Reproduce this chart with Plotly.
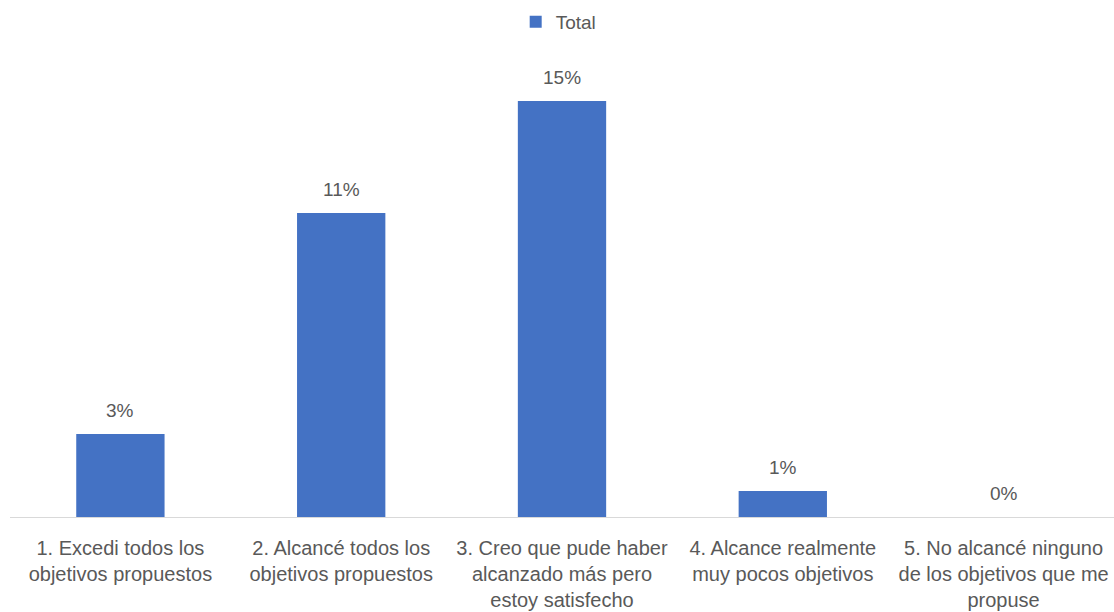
import plotly.graph_objects as go

categories = [
    "1. Excedi todos los<br>objetivos propuestos",
    "2. Alcancé todos los<br>objetivos propuestos",
    "3. Creo que pude haber<br>alcanzado más pero<br>estoy satisfecho",
    "4. Alcance realmente<br>muy pocos objetivos",
    "5. No alcancé ninguno<br>de los objetivos que me<br>propuse",
]
values = [2.99, 10.96, 15.0, 0.94, 0.0]
labels = ["3%", "11%", "15%", "1%", "0%"]

font_family = "Liberation Sans"
grey = "#595959"

fig = go.Figure()
fig.add_trace(go.Bar(
    x=categories, y=values, name="Total",
    marker=dict(color="#4472C4", line=dict(width=0)),
    showlegend=True,
))

for c, v, t in zip(categories, values, labels):
    fig.add_annotation(x=c, y=v, text=t, showarrow=False, yanchor="bottom",
                       yshift=11, font=dict(family=font_family, size=19, color=grey))

fig.update_layout(
    width=1114, height=612,
    margin=dict(l=10, r=0, t=60, b=95),
    paper_bgcolor="white", plot_bgcolor="white",
    bargap=0.6,
    font=dict(family=font_family, size=19, color=grey),
    legend=dict(orientation="h", x=0.497, xanchor="center", y=1 - 22/612,
                yref="container", yanchor="middle", font=dict(size=19, color=grey),
                itemwidth=30),
    xaxis=dict(showline=True, linecolor="#D9D9D9", linewidth=1, ticks="",
               tickfont=dict(size=20, color=grey), showgrid=False, fixedrange=True,
               ticklabelstandoff=13),
    yaxis=dict(range=[0, 16.48], visible=False, showgrid=False, zeroline=False),
)

fig.write_html("out.html")
